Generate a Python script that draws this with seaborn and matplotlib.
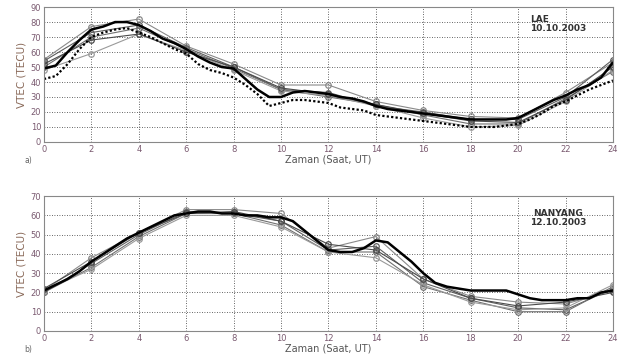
import numpy as np
import pandas as pd
import matplotlib
matplotlib.use("Agg")
import matplotlib.pyplot as plt
import seaborn as sns

sns.set_theme(style="white")
plt.rcParams['font.family'] = ['DejaVu Sans']

# ---------------- data ----------------
hours_even = [0, 2, 4, 6, 8, 10, 12, 14, 16, 18, 20, 22, 24]
hours_half = [i * 0.5 for i in range(49)]

# Panel a) LAE 10.10.2003
lae_obs = [49, 51, 60, 68, 75, 77, 80, 80, 78, 74, 69, 66, 62, 57, 53, 50, 49, 42, 35, 30,
           30, 33, 34, 33, 32, 30, 29, 27, 24, 22, 21, 20, 19, 18, 17, 16, 15, 15, 15, 15,
           16, 20, 24, 28, 31, 35, 38, 43, 53]
lae_dot = [42, 44, 52, 62, 70, 73, 75, 76, 73, 70, 66, 62, 59, 52, 48, 46, 43, 38, 32, 24,
           26, 28, 28, 27, 26, 23, 22, 21, 18, 17, 16, 15, 14, 13, 12, 11, 10, 10, 10, 11,
           12, 15, 19, 24, 27, 31, 35, 38, 41]
lae_m1 = [55, 77, 82, 64, 52, 38, 38, 27, 21, 17, 16, 33, 53]
lae_m2 = [54, 73, 78, 63, 50, 35, 33, 24, 20, 15, 15, 30, 55]
lae_m3 = [50, 70, 76, 62, 49, 35, 30, 25, 18, 12, 12, 29, 47]
lae_m4 = [48, 59, 72, 61, 48, 34, 31, 24, 16, 10, 11, 27, 48]
lae_m5 = [52, 68, 72, 60, 50, 36, 32, 25, 19, 14, 13, 28, 50]

# Panel b) NANYANG 12.10.2003
nan_obs = [21, 24, 27, 31, 36, 40, 44, 48, 51, 54, 57, 60, 61, 62, 62, 61, 61, 60, 60, 59,
           59, 57, 52, 47, 42, 41, 41, 43, 47, 46, 41, 36, 30, 25, 23, 22, 21, 21, 21, 21,
           19, 17, 16, 16, 16, 17, 17, 20, 21]
nan_m1 = [21, 38, 51, 63, 63, 61, 43, 49, 27, 18, 15, 14, 21]
nan_m2 = [20, 35, 50, 62, 61, 57, 42, 44, 25, 17, 12, 11, 22]
nan_m3 = [20, 33, 49, 61, 61, 55, 41, 41, 23, 16, 10, 10, 23]
nan_m4 = [21, 32, 48, 60, 60, 54, 41, 38, 24, 15, 11, 12, 24]
nan_m5 = [22, 36, 51, 61, 62, 57, 45, 42, 27, 17, 13, 15, 20]

x_ticks = [0, 2, 4, 6, 8, 10, 12, 14, 16, 18, 20, 22, 24]
xtick_labels = ["0", "2", "4", "6", "8", "10", "12", "14", "16", "18", "20", "22", "24"]

model_colors = ["#8a8a8a", "#5e5e5e", "#707070", "#9a9a9a", "#4a4a4a"]

# ---------------- figure ----------------
fig = plt.figure(figsize=(6.28, 3.54), dpi=100)
ax1 = fig.add_axes([0.070, 0.599, 0.906, 0.381])
ax2 = fig.add_axes([0.070, 0.065, 0.906, 0.381])

tick_color = "#7a5a70"
label_color = "#8a6a5a"


def draw_models(ax, models):
    for i, m in enumerate(models):
        df = pd.DataFrame({"h": hours_even, "v": m})
        sns.lineplot(data=df, x="h", y="v", ax=ax, color=model_colors[i], lw=0.8,
                     marker="o", markersize=4, markerfacecolor="none",
                     markeredgecolor=model_colors[i], markeredgewidth=0.9)


def style_axes(ax, ymax, label):
    ax.set_xlim(0, 24)
    ax.set_ylim(0, ymax)
    ax.set_xticks(x_ticks)
    ax.set_xticklabels(xtick_labels)
    ax.set_yticks(range(0, ymax + 1, 10))
    ax.grid(True, color="#333333", linestyle=(0, (1, 2)), linewidth=0.6)
    ax.tick_params(axis="both", labelsize=6, colors=tick_color, length=0, pad=2)
    for s in ax.spines.values():
        s.set_color("#888888")
        s.set_linewidth(0.8)
    ax.set_ylabel("VTEC (TECU)", fontsize=7.5, color=label_color, labelpad=3)
    ax.set_xlabel("Zaman (Saat, UT)", fontsize=7, color="#555555", labelpad=0.5)
    ax.text(-0.035, -0.155, label, transform=ax.transAxes, fontsize=5.5, color="#666666")


# Panel a
draw_models(ax1, [lae_m1, lae_m2, lae_m3, lae_m4, lae_m5])
sns.lineplot(x=hours_half, y=lae_dot, ax=ax1, color="black", lw=1.6,
             linestyle=(0, (1, 1)))
sns.lineplot(x=hours_half, y=lae_obs, ax=ax1, color="black", lw=1.8)
style_axes(ax1, 90, "a)")
ax1.text(20.5, 85, "LAE\n10.10.2003", fontsize=6.5, fontweight="bold",
         color="#333333", ha="left", va="top", linespacing=1.1)

# Panel b
draw_models(ax2, [nan_m1, nan_m2, nan_m3, nan_m4, nan_m5])
sns.lineplot(x=hours_half, y=nan_obs, ax=ax2, color="black", lw=1.8)
style_axes(ax2, 70, "b)")
ax2.text(21.7, 63.5, "NANYANG\n12.10.2003", fontsize=6.5, fontweight="bold",
         color="#333333", ha="center", va="top", linespacing=1.1)

fig.savefig("out.png", dpi=100, facecolor="white")
